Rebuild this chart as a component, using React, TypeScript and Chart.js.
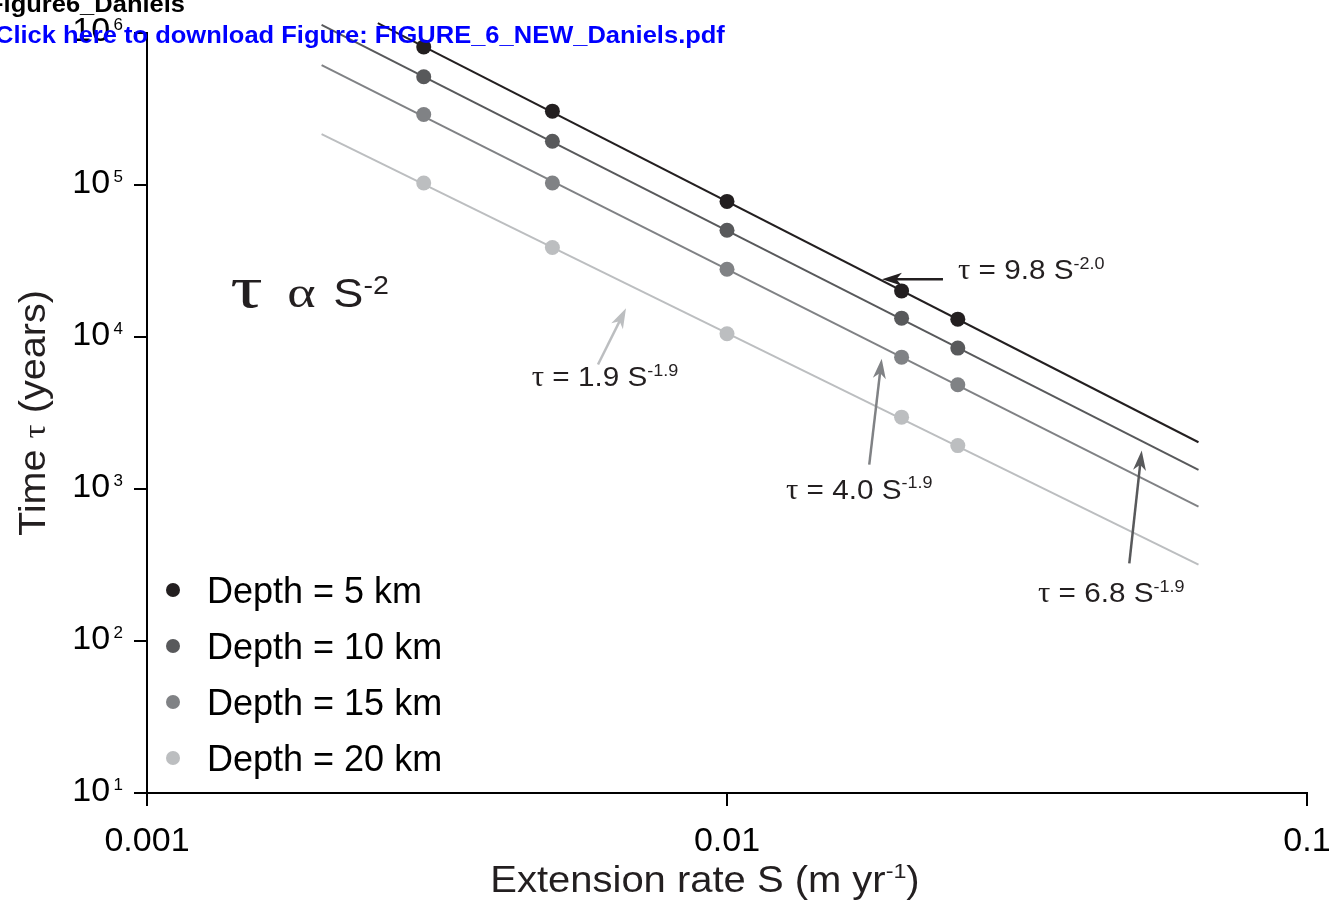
import React, { useEffect, useRef } from "react";
import { Chart, registerables } from "chart.js";

Chart.register(...registerables);

const SANS = '"Liberation Sans", Arial, Helvetica, sans-serif';
const SERIF = '"Liberation Serif", "Times New Roman", serif';

// Extension rates S (m/yr) at which the relaxation times were computed
const extensionRates = [0.003, 0.005, 0.01, 0.02, 0.025];

const depthLabels = ["Depth = 5 km", "Depth = 10 km", "Depth = 15 km", "Depth = 20 km"];
const depthColors = ["#231f20", "#58595b", "#808285", "#bcbec0"];

// Time tau (years) for each depth
const tauDepth5 = [8.1e5, 3.06e5, 7.8e4, 2.01e4, 1.31e4];
const tauDepth10 = [5.15e5, 1.94e5, 5.04e4, 1.33e4, 8.45e3];
const tauDepth15 = [2.91e5, 1.03e5, 2.79e4, 7.37e3, 4.85e3];
const tauDepth20 = [1.03e5, 3.88e4, 1.05e4, 2.97e3, 1.93e3];

// Fitted power-law lines, given by their two end points (S, tau)
const fitS5 = [0.0025, 0.065];
const fitS = [0.002, 0.065];
const fitTau5 = [1.16e6, 2030];
const fitTau10 = [1.13e6, 1336];
const fitTau15 = [6.15e5, 766];
const fitTau20 = [2.16e5, 318];

const xTickValues = [0.001, 0.01, 0.1];
const xTickLabels = ["0.001", "0.01", "0.1"];
const yTickValues = [1e1, 1e2, 1e3, 1e4, 1e5, 1e6];
const yTickExponents = ["1", "2", "3", "4", "5", "6"];

// Fit equations with their arrows, anchored in data space (S, tau)
const fitNotes = [
  { coef: "9.8", exp: "-2.0", color: "#231f20", label: [0.02502, 2.394e4], tail: [0.02357, 2.394e4], tip: [0.0185, 2.394e4] },
  { coef: "1.9", exp: "-1.9", color: "#bcbec0", label: [0.004606, 4727], tail: [0.005993, 6598], tip: [0.006697, 1.543e4] },
  { coef: "4.0", exp: "-1.9", color: "#808285", label: [0.01264, 860.7], tail: [0.01759, 1448], tip: [0.01848, 7195] },
  { coef: "6.8", exp: "-1.9", color: "#58595b", label: [0.03437, 179.3], tail: [0.04939, 323.9], tip: [0.05188, 1791] },
];
const scalingLawAnchor = [0.001392, 1.567e4];

type Run = { text: string; font: string; rise?: number; gap?: number };

function runsWidth(ctx: CanvasRenderingContext2D, runs: Run[]) {
  let w = 0;
  for (const r of runs) {
    ctx.font = r.font;
    w += (r.gap || 0) + ctx.measureText(r.text).width;
  }
  return w;
}

function drawRuns(
  ctx: CanvasRenderingContext2D,
  runs: Run[],
  x: number,
  y: number,
  align: "left" | "center" | "right",
  color: string,
  stretch = 1,
  rotate = 0
) {
  ctx.save();
  ctx.translate(x, y);
  if (rotate) ctx.rotate(rotate);
  ctx.scale(stretch, 1);
  const w = runsWidth(ctx, runs);
  let cx = align === "left" ? 0 : align === "center" ? -w / 2 : -w;
  ctx.fillStyle = color;
  ctx.textAlign = "left";
  ctx.textBaseline = "alphabetic";
  for (const r of runs) {
    ctx.font = r.font;
    cx += r.gap || 0;
    ctx.fillText(r.text, cx, -(r.rise || 0));
    cx += ctx.measureText(r.text).width;
  }
  ctx.restore();
}

function drawArrow(ctx: CanvasRenderingContext2D, x1: number, y1: number, x2: number, y2: number, color: string) {
  const a = Math.atan2(y2 - y1, x2 - x1);
  const c = Math.cos(a);
  const s = Math.sin(a);
  const head = 20;
  const hw = 6.5;
  ctx.save();
  ctx.strokeStyle = color;
  ctx.fillStyle = color;
  ctx.lineWidth = 2.5;
  ctx.beginPath();
  ctx.moveTo(x1, y1);
  ctx.lineTo(x2 - c * head * 0.7, y2 - s * head * 0.7);
  ctx.stroke();
  ctx.beginPath();
  ctx.moveTo(x2, y2);
  ctx.lineTo(x2 - c * head + s * hw, y2 - s * head - c * hw);
  ctx.lineTo(x2 - c * head * 0.72, y2 - s * head * 0.72);
  ctx.lineTo(x2 - c * head - s * hw, y2 - s * head + c * hw);
  ctx.closePath();
  ctx.fill();
  ctx.restore();
}

const figureText = {
  id: "figureText",
  afterDraw(chart: any) {
    const { ctx, chartArea } = chart;
    const xs = chart.scales.x;
    const ys = chart.scales.y;
    const px = (v: number) => xs.getPixelForValue(v);
    const py = (v: number) => ys.getPixelForValue(v);
    ctx.save();

    // y tick labels 10^n
    yTickValues.forEach((v, i) => {
      drawRuns(
        ctx,
        [
          { text: "10", font: `34px ${SANS}` },
          { text: yTickExponents[i], font: `17px ${SANS}`, rise: 11, gap: 3.5 },
        ],
        chartArea.left - 24,
        py(v) + 7.5,
        "right",
        "#000"
      );
    });

    // x tick labels
    xTickValues.forEach((v, i) => {
      drawRuns(ctx, [{ text: xTickLabels[i], font: `34px ${SANS}` }], px(v), chartArea.bottom + 58, "center", "#000");
    });

    // axis titles
    drawRuns(
      ctx,
      [
        { text: "Extension rate S (m yr", font: `36px ${SANS}` },
        { text: "-1", font: `21px ${SANS}`, rise: 14 },
        { text: ")", font: `36px ${SANS}` },
      ],
      (chartArea.left + chartArea.right) / 2 - 22,
      chartArea.bottom + 99,
      "center",
      "#231f20",
      1.11
    );
    drawRuns(
      ctx,
      [
        { text: "Time ", font: `36px ${SANS}` },
        { text: "τ", font: `32px ${SERIF}` },
        { text: " (years)", font: `36px ${SANS}` },
      ],
      chartArea.left - 102,
      (chartArea.top + chartArea.bottom) / 2,
      "center",
      "#231f20",
      1.1,
      -Math.PI / 2
    );

    // legend
    chart.data.datasets.forEach((ds: any) => {
      if (ds.legendIndex === undefined) return;
      const base = chartArea.bottom - 190 + ds.legendIndex * 56;
      ctx.beginPath();
      ctx.fillStyle = ds.backgroundColor;
      ctx.arc(chartArea.left + 26, base - 13, 7, 0, Math.PI * 2);
      ctx.fill();
      drawRuns(ctx, [{ text: ds.label, font: `36px ${SANS}` }], chartArea.left + 60, base, "left", "#000");
    });

    // scaling law
    const lx = px(scalingLawAnchor[0]);
    const ly = py(scalingLawAnchor[1]);
    drawRuns(ctx, [{ text: "τ", font: `60px ${SERIF}` }], lx, ly, "left", "#231f20", 1.35);
    drawRuns(ctx, [{ text: "α", font: `45px ${SERIF}` }], lx + 57, ly, "left", "#231f20", 1.2);
    drawRuns(
      ctx,
      [
        { text: "S", font: `41px ${SANS}` },
        { text: "-2", font: `26px ${SANS}`, rise: 13 },
      ],
      lx + 103,
      ly,
      "left",
      "#231f20",
      1.1
    );

    // fit equations with arrows
    fitNotes.forEach((n) => {
      drawArrow(ctx, px(n.tail[0]), py(n.tail[1]), px(n.tip[0]), py(n.tip[1]), n.color);
      drawRuns(
        ctx,
        [
          { text: "τ", font: `29px ${SERIF}` },
          { text: ` = ${n.coef} S`, font: `28px ${SANS}` },
          { text: n.exp, font: `17px ${SANS}`, rise: 10.5 },
        ],
        px(n.label[0]),
        py(n.label[1]),
        "left",
        "#231f20",
        1.06
      );
    });

    ctx.restore();
  },
};

const scatterSet = (label: string, values: number[], color: string, legendIndex: number) => ({
  type: "scatter" as const,
  label,
  legendIndex,
  data: extensionRates.map((s, i) => ({ x: s, y: values[i] })),
  backgroundColor: color,
  borderColor: color,
  borderWidth: 0,
  pointRadius: 7.5,
  pointHoverRadius: 7.5,
  showLine: false,
  order: 1,
});

const fitSet = (sRange: number[], tau: number[], color: string) => ({
  type: "line" as const,
  label: "",
  data: sRange.map((s, i) => ({ x: s, y: tau[i] })),
  borderColor: color,
  backgroundColor: color,
  borderWidth: 2,
  pointRadius: 0,
  fill: false,
  tension: 0,
  clip: false as const,
  order: 2,
});

const axisStyle = {
  ticks: { display: false },
  grid: {
    display: true,
    drawOnChartArea: false,
    drawTicks: true,
    tickLength: 13,
    tickWidth: 2,
    tickColor: "#000",
    color: "#000",
    lineWidth: 2,
  },
  border: { display: true, color: "#000", width: 2 },
};

export default function App() {
  const canvasRef = useRef<HTMLCanvasElement>(null);

  useEffect(() => {
    const canvas = canvasRef.current;
    if (!canvas) return;
    const chart = new Chart(canvas, {
      type: "scatter",
      data: {
        datasets: [
          fitSet(fitS5, fitTau5, depthColors[0]),
          fitSet(fitS, fitTau10, depthColors[1]),
          fitSet(fitS, fitTau15, depthColors[2]),
          fitSet(fitS, fitTau20, depthColors[3]),
          scatterSet(depthLabels[0], tauDepth5, depthColors[0], 0),
          scatterSet(depthLabels[1], tauDepth10, depthColors[1], 1),
          scatterSet(depthLabels[2], tauDepth15, depthColors[2], 2),
          scatterSet(depthLabels[3], tauDepth20, depthColors[3], 3),
        ] as any,
      },
      options: {
        responsive: false,
        devicePixelRatio: 1,
        animation: false,
        events: [],
        layout: { padding: { left: 134, top: 33, right: 34, bottom: 109 } },
        plugins: { legend: { display: false }, tooltip: { enabled: false } },
        scales: {
          x: {
            type: "logarithmic",
            position: "bottom",
            min: 0.001,
            max: 0.1,
            afterBuildTicks: (axis: any) => {
              axis.ticks = xTickValues.map((v) => ({ value: v, major: true }));
            },
            ...axisStyle,
          },
          y: {
            type: "logarithmic",
            position: "left",
            min: 10,
            max: 1e6,
            afterBuildTicks: (axis: any) => {
              axis.ticks = yTickValues.map((v) => ({ value: v, major: true }));
            },
            ...axisStyle,
          },
        },
      } as any,
      plugins: [figureText],
    });
    return () => chart.destroy();
  }, []);

  const headerBase: React.CSSProperties = {
    position: "absolute",
    margin: 0,
    whiteSpace: "nowrap",
    fontFamily: SANS,
    fontWeight: "bold",
    fontSize: 23.2,
    lineHeight: "23.2px",
    transform: "scaleX(1.1)",
    transformOrigin: "left top",
  };

  return (
    <div style={{ position: "absolute", left: 0, top: 0, width: 1341, height: 915, background: "#fff", overflow: "hidden" }}>
      <canvas ref={canvasRef} width={1341} height={915} style={{ position: "absolute", left: 0, top: 0 }} />
      <div style={{ ...headerBase, left: -12, top: -7, color: "#000" }}>Figure6_Daniels</div>
      <div style={{ ...headerBase, left: -5, top: 24.3, color: "#0000ff" }}>
        Click here to download Figure: FIGURE_6_NEW_Daniels.pdf
      </div>
    </div>
  );
}
